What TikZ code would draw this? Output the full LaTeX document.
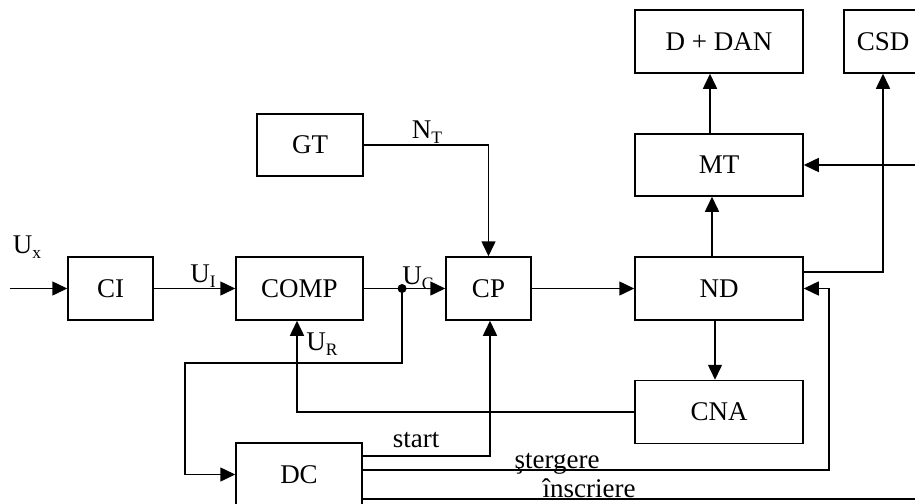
\documentclass[tikz,border=0pt]{standalone}
\usepackage{fontspec}
\setmainfont{Liberation Serif}
\usetikzlibrary{arrows.meta}
\newcommand{\mysub}[1]{\raisebox{-0.22em}{\fontsize{17.5}{17.5}\selectfont #1}}
\begin{document}
\begin{tikzpicture}[x=1pt,y=-1pt,line width=1.5pt,
  blk/.style={draw,line width=1.5pt,minimum height=63pt,inner sep=0pt,font=\fontsize{27}{30}\selectfont},
  arr/.style={-{Triangle[length=15pt,width=14pt]}},
  lbl/.style={font=\fontsize{27}{30}\selectfont,inner sep=0pt,anchor=base}]
\useasboundingbox (0,0) rectangle (915,503);
% blocks
\node[blk,minimum width=85pt]  (ci)   at (110.5,288.5) {CI};
\node[blk,minimum width=127pt] (comp) at (299.5,288.5) {COMP};
\node[blk,minimum width=85pt]  (cp)   at (488.5,288.5) {CP};
\node[blk,minimum width=168pt] (nd)   at (719,288.5) {ND};
\node[blk,minimum width=168pt] (cna)  at (719,412) {CNA};
\node[blk,minimum width=126pt] (dc)   at (299,474.5) {DC};
\node[blk,minimum width=106pt,minimum height=62pt] (gt) at (310,145) {GT};
\node[blk,minimum width=168pt,minimum height=62pt] (mt) at (719,165) {MT};
\node[blk,minimum width=168pt] (dan)  at (719,41.5) {D + DAN};
\node[blk,minimum width=78pt]  (csd)  at (883,41.5) {CSD};
% free ends and bends
\coordinate (uxin) at (10,288.5);
\coordinate (mtin) at (915,165);
\coordinate (insend) at (915,499);
\coordinate (fbk) at (185,363);
\path (comp.east) -- (cp.west) coordinate[pos=0.47] (uc);
% connectors
\draw[arr] (uxin) -- (ci.west);
\draw[arr] (ci.east) -- (comp.west);
\draw[arr] (comp.east) -- (cp.west);
\fill (uc) circle[radius=4.5pt];
\draw[arr] (uc) |- (fbk) |- (dc.west);
\draw[arr] (gt.east) -| (cp.north);
\draw[arr] (cp.east) -- (nd.west);
\draw[arr] ([xshift=-7pt]nd.north) -- ([xshift=-7pt]mt.south);
\draw[arr] ([xshift=-9pt]mt.north) -- ([xshift=-9pt]dan.north |- dan.south);
\draw[arr] ([xshift=-4pt]nd.south) -- ([xshift=-4pt]cna.north);
\draw[arr] (cna.west) -| ([xshift=-2.5pt]comp.south);
\draw[arr] ([yshift=16.5pt]nd.east) -| (csd.south);
\draw[arr] (mtin) -- (mt.east);
\draw[arr] ([yshift=18.5pt]dc.east) -| ([xshift=1.5pt]cp.south);
\draw[arr] ([yshift=4.5pt]dc.east) -| ([xshift=25pt]nd.east) -- (nd.east);
\draw ([yshift=-24.5pt]dc.east) -- (insend);
% labels
\node[lbl] (lux) at (27,253) {U\mysub{x}};
\node[lbl] (lui) at (203,282) {U\mysub{I}};
\node[lbl] (luc) at (418,284) {U\mysub{C}};
\node[lbl] (lur) at (322,350) {U\mysub{R}};
\node[lbl] (lnt) at (427,138) {N\mysub{T}};
\node[lbl] (lst) at (416,447) {start};
\node[lbl] (lsg) at (557,468) {ştergere};
\node[lbl] (lin) at (589,497) {înscriere};
\end{tikzpicture}
\end{document}
